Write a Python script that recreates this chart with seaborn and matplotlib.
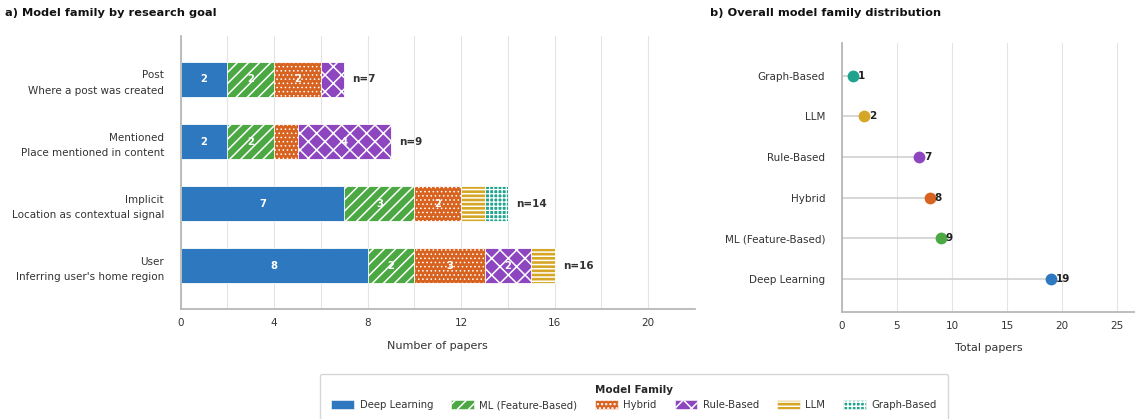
import numpy as np
import pandas as pd
import matplotlib
matplotlib.use("Agg")
import matplotlib.pyplot as plt
from matplotlib.patches import Patch
import seaborn as sns

# ---------------- data ----------------
goals = ["Post\nWhere a post was created",
         "Mentioned\nPlace mentioned in content",
         "Implicit\nLocation as contextual signal",
         "User\nInferring user's home region"]
families = ["Deep Learning", "ML (Feature-Based)", "Hybrid", "Rule-Based", "LLM", "Graph-Based"]
deep_learning = [2, 2, 7, 8]
ml_feature = [2, 2, 3, 2]
hybrid = [2, 1, 2, 3]
rule_based = [1, 4, 0, 2]
llm = [0, 0, 1, 1]
graph_based = [0, 0, 1, 0]

lollipop_order = ["Graph-Based", "LLM", "Rule-Based", "Hybrid", "ML (Feature-Based)", "Deep Learning"]
lollipop_totals = [1, 2, 7, 8, 9, 19]

left_xticks = [0, 4, 8, 12, 16, 20]
right_xticks = [0, 5, 10, 15, 20, 25]

# ---------------- style ----------------
colors = {"Deep Learning": "#2E78C0", "ML (Feature-Based)": "#4CA843", "Hybrid": "#D8621F",
          "Rule-Based": "#8E46C0", "LLM": "#D6A727", "Graph-Based": "#1FA38F"}
hatches = {"Deep Learning": "", "ML (Feature-Based)": "///", "Hybrid": "....",
           "Rule-Based": "xx", "LLM": "----", "Graph-Based": "++++"}
hatch_lw = {"Deep Learning": 1.0, "ML (Feature-Based)": 1.1, "Hybrid": 0.6,
            "Rule-Based": 1.1, "LLM": 1.1, "Graph-Based": 0.9}

sns.set_theme(style="white")
plt.rcParams["font.family"] = ["DejaVu Sans"]
plt.rcParams["hatch.linewidth"] = 1.1
plt.rcParams["axes.edgecolor"] = "#b5b5b5"
TXT = "#333333"
FS = 7.5

fig = plt.figure(figsize=(11.35, 4.19), dpi=100)
ax1 = fig.add_axes([0.1592, 0.2618, 0.4531, 0.6523])
ax2 = fig.add_axes([0.7416, 0.2561, 0.2584, 0.6413])

# ---------------- panel a: stacked bars ----------------
series = [deep_learning, ml_feature, hybrid, rule_based, llm, graph_based]
cum = np.cumsum(np.array(series), axis=0)
for k in range(len(families) - 1, -1, -1):
    fam = families[k]
    df = pd.DataFrame({"goal": goals, "value": cum[k]})
    n_before = len(ax1.patches)
    with plt.rc_context({"hatch.linewidth": hatch_lw[fam]}):
        sns.barplot(data=df, x="value", y="goal", order=goals, orient="y", ax=ax1,
                    color=colors[fam], saturation=1, width=0.56, hatch=hatches[fam],
                    edgecolor="white", linewidth=0.6, errorbar=None, zorder=2)
    for p in ax1.patches[n_before:]:
        if hasattr(p, "set_hatch_linewidth"):
            p.set_hatch_linewidth(hatch_lw[fam])

for i in range(len(goals)):
    left = 0
    for k, fam in enumerate(families):
        v = series[k][i]
        if v >= 2:
            ax1.text(left + v / 2, i, str(v), ha="center", va="center",
                     color="white", fontsize=7.2, fontweight="bold", zorder=5)
        left += v
    ax1.text(cum[-1][i] + 0.35, i, f"n={cum[-1][i]}", ha="left", va="center",
             color=TXT, fontsize=FS, fontweight="bold")

ax1.set_xlim(0, 22)
ax1.set_ylim(3.7, -0.7)
ax1.set_xticks(left_xticks)
ax1.set_xticks([2, 6, 10, 14, 18], minor=True)
ax1.grid(axis="x", which="both", color="#e4e4e4", lw=0.8, zorder=0)
ax1.set_axisbelow(True)
ax1.set_xlabel("Number of papers", fontsize=8, color=TXT, labelpad=9)
ax1.set_ylabel("")
ax1.tick_params(axis="x", which="major", length=3, color="#b5b5b5", labelsize=FS, labelcolor=TXT)
ax1.tick_params(axis="x", which="minor", length=2, color="#b5b5b5")
ax1.tick_params(axis="y", length=3, color="#b5b5b5", labelsize=FS, labelcolor=TXT, pad=9)
for lab in ax1.get_yticklabels():
    lab.set_horizontalalignment("right")
    lab.set_multialignment("right")
    lab.set_linespacing(1.7)
for s in ["top", "right"]:
    ax1.spines[s].set_visible(False)

# ---------------- panel b: lollipop ----------------
ax2.hlines(y=np.arange(len(lollipop_order)), xmin=0, xmax=lollipop_totals,
           color="#cfcfcf", lw=1.2, zorder=1)
sns.stripplot(x=lollipop_totals, y=lollipop_order, order=lollipop_order,
              hue=lollipop_order, palette=colors, jitter=False, size=8.5,
              legend=False, ax=ax2, zorder=3, linewidth=0)
for i, v in enumerate(lollipop_totals):
    ax2.annotate(str(v), (v, i), xytext=(3.5, 0), textcoords="offset points",
                 ha="left", va="center", fontsize=FS, fontweight="bold", color="#222222")
ax2.set_xlim(0, 26.6)
ax2.set_ylim(5.8, -0.8)
ax2.set_xticks(right_xticks)
ax2.grid(axis="x", color="#e4e4e4", lw=0.8, zorder=0)
ax2.set_axisbelow(True)
ax2.set_xlabel("Total papers", fontsize=8, color=TXT, labelpad=9)
ax2.set_ylabel("")
ax2.tick_params(axis="x", length=3, color="#b5b5b5", labelsize=FS, labelcolor=TXT)
ax2.tick_params(axis="y", length=3, color="#b5b5b5", labelsize=FS, labelcolor=TXT, pad=9)
for s in ["top", "right"]:
    ax2.spines[s].set_visible(False)

# ---------------- titles ----------------
fig.text(5 / 1135, 1 - 13 / 419, "a) Model family by research goal", fontsize=8.2,
         fontweight="bold", color="#111111", ha="left", va="center")
fig.text(710 / 1135, 1 - 13 / 419, "b) Overall model family distribution", fontsize=8.2,
         fontweight="bold", color="#111111", ha="left", va="center")

# ---------------- legend ----------------
handles = [Patch(facecolor=colors[f], hatch=hatches[f], edgecolor="white", linewidth=0.4, label=f)
           for f in families]
leg = fig.legend(handles=handles, loc="upper center", bbox_to_anchor=(634 / 1135, 1 - 374 / 419),
                 ncol=6, fontsize=7.3, title="Model Family", frameon=True,
                 handlelength=2.25, handleheight=1.0, handletextpad=0.55,
                 columnspacing=1.75, borderpad=1.1, borderaxespad=0.0)
leg.get_title().set_fontweight("bold")
leg.get_title().set_fontsize(7.5)
leg.get_frame().set_edgecolor("#cccccc")
for t in leg.get_texts():
    t.set_color(TXT)

fig.savefig("out.png", dpi=100)
